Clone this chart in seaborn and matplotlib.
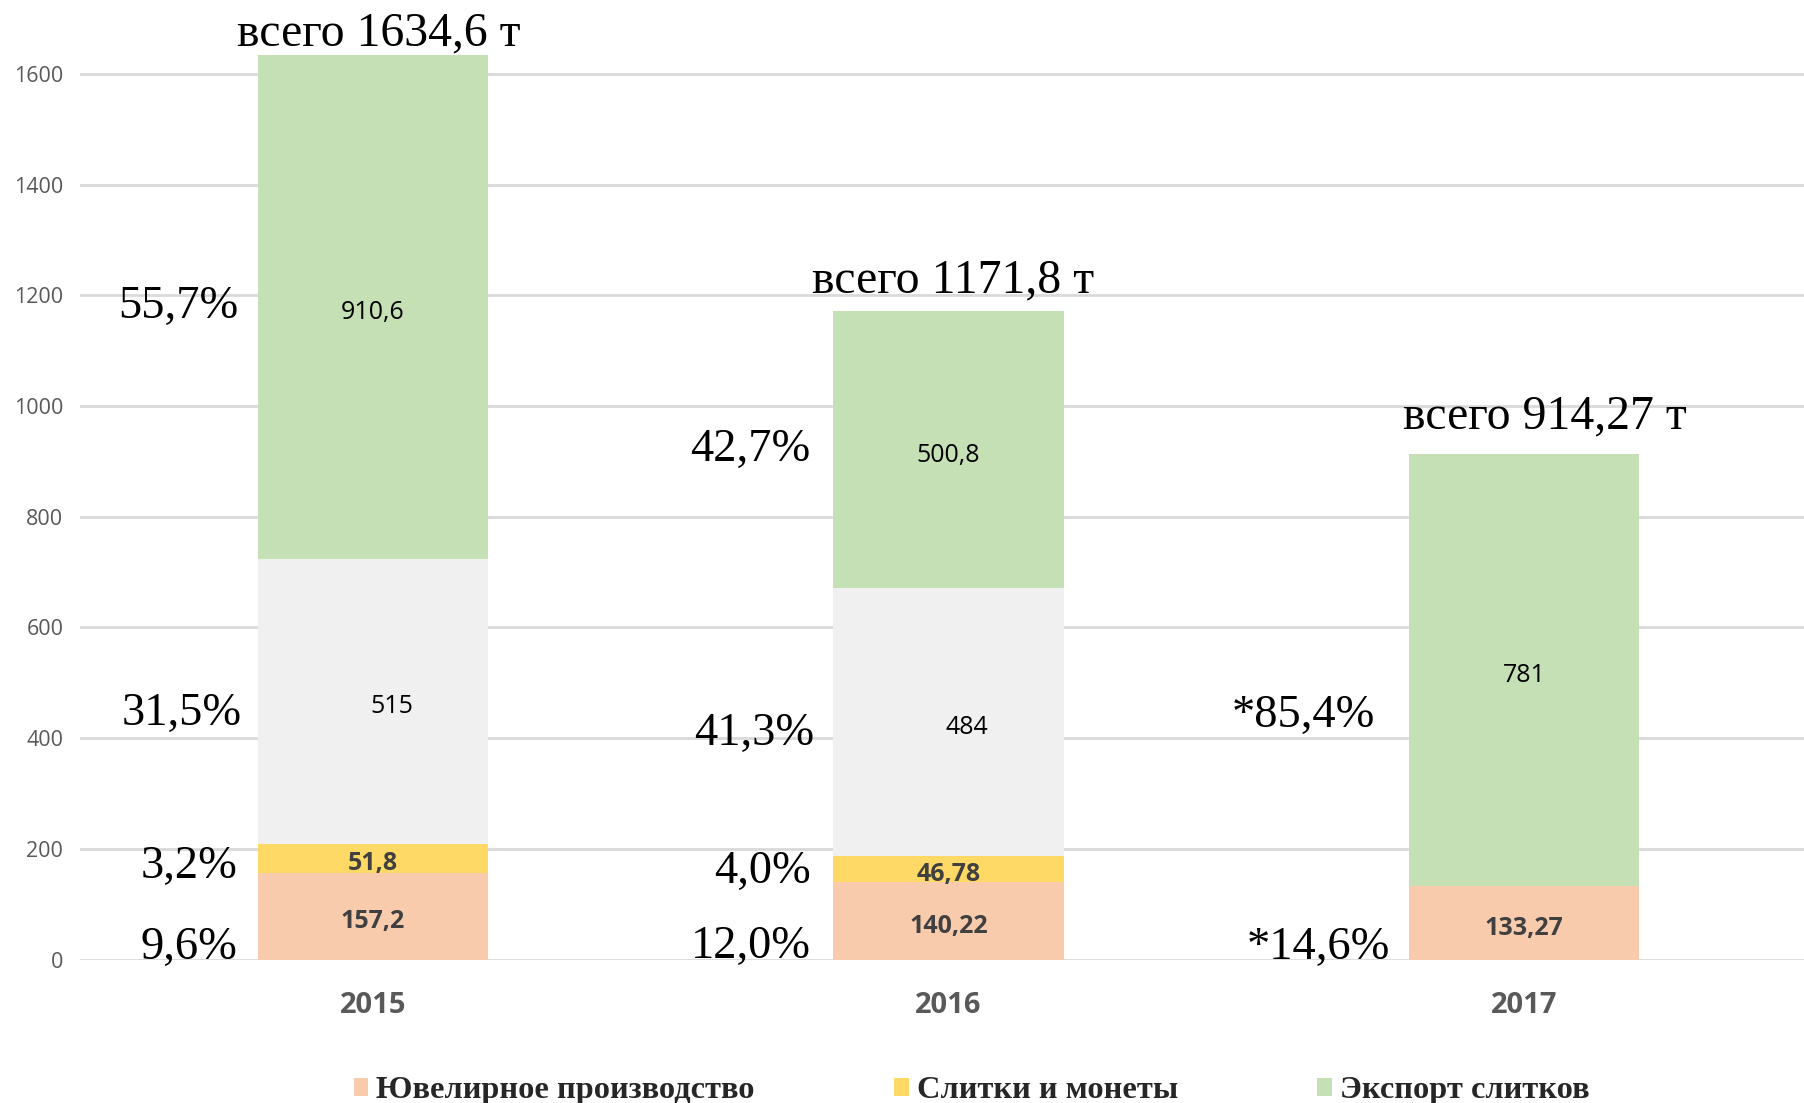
import matplotlib
matplotlib.use("Agg")
import matplotlib.pyplot as plt
from matplotlib.patches import Patch
import seaborn as sns
import numpy as np
import pandas as pd

# ---- data ----
years = ["2015", "2016", "2017"]
jewelry = [157.2, 140.22, 133.27]
bars_coins = [51.8, 46.78, 0.0]
other = [515.0, 484.0, 0.0]
export = [910.6, 500.8, 781.0]

jewelry_lbl = ["157,2", "140,22", "133,27"]
bars_lbl = ["51,8", "46,78", ""]
other_lbl = ["515", "484", ""]
export_lbl = ["910,6", "500,8", "781"]
totals_lbl = ["всего 1634,6 т", "всего 1171,8 т", "всего 914,27 т"]

pct_jewelry = ["9,6%", "12,0%", "*14,6%"]
pct_bars = ["3,2%", "4,0%", ""]
pct_other = ["31,5%", "41,3%", ""]
pct_export = ["55,7%", "42,7%", "*85,4%"]

legend_names = ["Ювелирное производство", "Слитки и монеты", "Экспорт слитков"]
yticks = [0, 200, 400, 600, 800, 1000, 1200, 1400, 1600]

c_jew = "#F8CBAD"
c_bar = "#FFD966"
c_oth = "#F0F0F0"
c_exp = "#C5E0B4"

sns.set_theme(style="white")
plt.rcParams["font.family"] = ["Open Sans", "DejaVu Sans"]

df = pd.DataFrame({"year": years, "jew": jewelry, "bar": bars_coins,
                   "oth": other, "exp": export})
df["c1"] = df["jew"]
df["c2"] = df["c1"] + df["bar"]
df["c3"] = df["c2"] + df["oth"]
df["c4"] = df["c3"] + df["exp"]

fig = plt.figure(figsize=(18.04, 11.03), dpi=100)
ax = fig.add_axes([80 / 1804, 1 - 959.5 / 1103, 1732 / 1804, 959.5 / 1103])

for col, color in [("c4", c_exp), ("c3", c_oth), ("c2", c_bar), ("c1", c_jew)]:
    sns.barplot(data=df, x="year", y=col, color=color, saturation=1,
                width=0.4, errorbar=None, ax=ax, zorder=2, linewidth=0)

ax.set_xlim(-0.509, 2.5)
ax.set_ylim(0, 1734)
ax.set_yticks(yticks)
ax.set_yticklabels([str(t) for t in yticks])
ax.yaxis.grid(True, color="#D9D9D9", linewidth=2, zorder=0)
ax.set_axisbelow(True)
ax.set_xlabel("")
ax.set_ylabel("")
for s in ax.spines.values():
    s.set_visible(False)
ax.tick_params(axis="y", length=0, pad=12, labelsize=15.5, labelcolor="#595959")
ax.tick_params(axis="x", length=0, pad=22.5, labelsize=21, labelcolor="#595959")
for t in ax.get_xticklabels():
    t.set_fontweight("bold")

serif = ["Liberation Serif", "DejaVu Serif"]

# value labels inside segments
for i in range(len(years)):
    segs = [
        (0, jewelry[i], jewelry_lbl[i], "bold", "#404040", 0.0),
        (df["c1"][i], bars_coins[i], bars_lbl[i], "bold", "#404040", 0.0),
        (df["c2"][i], other[i], other_lbl[i], "normal", "#000000", 0.032),
        (df["c3"][i], export[i], export_lbl[i], "normal", "#000000", 0.0),
    ]
    for base, h, lbl, w, c, dx in segs:
        if lbl:
            ax.text(i + dx, base + h / 2 - 10, lbl, ha="center", va="center",
                    fontsize=18, fontweight=w, color=c, zorder=3)

total_pos = [(0.01, 1652), (1.007, 1206), (2.036, 960)]
for (x, y), lbl in zip(total_pos, totals_lbl):
    ax.text(x, y, lbl, ha="center", va="baseline",
            fontsize=34.4, family=serif, color="#000000")

# percent labels to the left of bars
pct_pos = [
    [(-0.236, 1, pct_jewelry[0]), (-0.236, 148, pct_bars[0]),
     (-0.228, 424, pct_other[0]), (-0.233, 1160, pct_export[0])],
    [(0.761, 3, pct_jewelry[1]), (0.761, 139, pct_bars[1]),
     (0.767, 387, pct_other[1]), (0.760, 901, pct_export[1])],
    [(1.767, 0, pct_jewelry[2]), (1.741, 421, pct_export[2])],
]
for grp in pct_pos:
    for x, y, lbl in grp:
        ax.text(x, y, lbl, ha="right", va="baseline", fontsize=33.5,
                family=serif, color="#000000")

handles = [Patch(facecolor=c_jew, edgecolor="none"),
           Patch(facecolor=c_bar, edgecolor="none"),
           Patch(facecolor=c_exp, edgecolor="none")]
fig.legend(handles, legend_names, loc="center", bbox_to_anchor=(0.5385, 0.011),
           ncol=3, frameon=False, handlelength=0.45, handleheight=0.45,
           handletextpad=0.25, columnspacing=4.3, borderpad=0,
           prop={"family": serif, "weight": "bold", "size": 23.3})

fig.savefig("out.png", dpi=100)
